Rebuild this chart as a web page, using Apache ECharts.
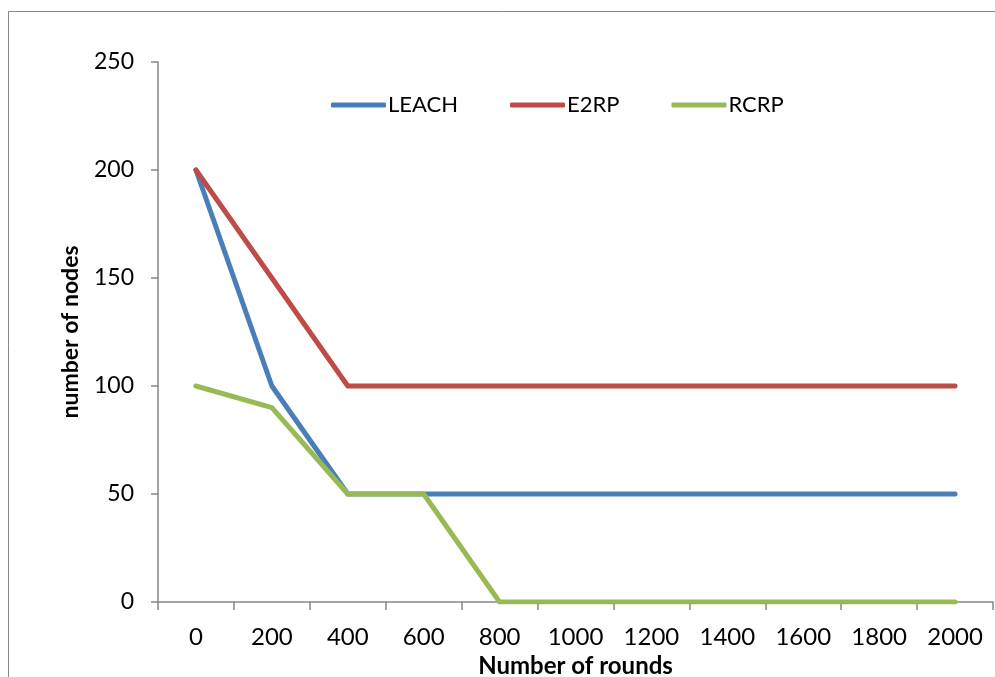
<!DOCTYPE html>
<html>
<head>
<meta charset="utf-8">
<script src="https://cdn.jsdelivr.net/npm/echarts@6/dist/echarts.min.js"></script>
<style>
html,body{margin:0;padding:0;background:#fff;}
#chart{width:995px;height:677px;}
</style>
</head>
<body>
<div id="chart"></div>
<script>
var categories = ['0','200','400','600','800','1000','1200','1400','1600','1800','2000'];
var leach = [200,100,50,50,50,50,50,50,50,50,50];
var e2rp  = [200,150,100,100,100,100,100,100,100,100,100];
var rcrp  = [100,90,50,50,0,0,0,0,0,0,0];
var yTicks = [0,50,100,150,200,250];

var FONT = 'Lato, Carlito, "Open Sans", sans-serif';
var chart = echarts.init(document.getElementById('chart'));
function mkSeries(name, data, color){
  return {name:name,type:'line',data:data,symbol:'none',
    lineStyle:{color:color,width:5,cap:'round',join:'round'},itemStyle:{color:color}};
}
chart.setOption({
  animation:false,
  backgroundColor:'#fff',
  graphic:[{type:'rect',shape:{x:8.5,y:11.5,width:1100,height:800},
    style:{fill:'none',stroke:'#868686',lineWidth:1},silent:true}],
  grid:{left:158,right:2,top:62,bottom:75,containLabel:false,outerBoundsMode:'none'},
  legend:{top:89,left:326,itemWidth:55,itemHeight:5,itemGap:52,icon:'roundRect',
    textStyle:{fontFamily:FONT,fontSize:22,color:'#000',padding:[0,0,0,-3]},
    data:['LEACH','E2RP','RCRP']},
  xAxis:{type:'category',data:categories,boundaryGap:true,
    name:'Number of rounds',nameLocation:'middle',nameGap:50,
    nameTextStyle:{fontFamily:FONT,fontSize:24,fontWeight:'bold',color:'#000'},
    axisLine:{lineStyle:{color:'#868686',width:1.5}},
    axisTick:{show:true,length:8,inside:false,lineStyle:{color:'#868686',width:1.5}},
    axisLabel:{fontFamily:FONT,fontSize:24,color:'#000',margin:23},
    splitLine:{show:false}},
  yAxis:{type:'value',min:0,max:250,interval:50,
    name:'number of nodes',nameLocation:'middle',nameGap:76,
    nameTextStyle:{fontFamily:FONT,fontSize:23,fontWeight:'bold',color:'#000'},
    axisLine:{show:true,lineStyle:{color:'#868686',width:1.5}},
    axisTick:{show:true,length:7,lineStyle:{color:'#868686',width:1.5}},
    axisLabel:{fontFamily:FONT,fontSize:23,color:'#000',margin:24,
      formatter:function(v){return yTicks.indexOf(v)>=0?String(v):'';}},
    splitLine:{show:false}},
  series:[mkSeries('LEACH',leach,'#4A7EBB'),mkSeries('E2RP',e2rp,'#BE4B48'),mkSeries('RCRP',rcrp,'#98B954')]
});
</script>
</body>
</html>
